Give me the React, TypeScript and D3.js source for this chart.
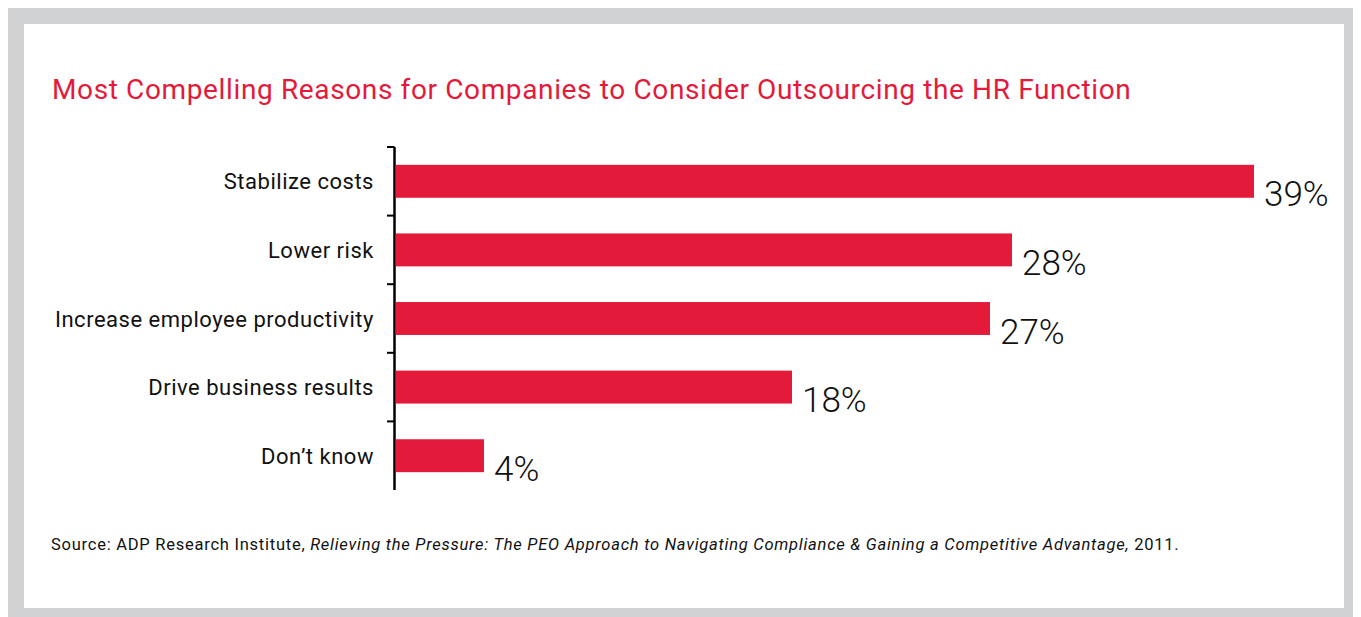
import React from "react";
import * as d3 from "d3";

const categories = [
  "Stabilize costs",
  "Lower risk",
  "Increase employee productivity",
  "Drive business results",
  "Don\u2019t know",
];
const values = [39, 28, 27, 18, 4];
const valueLabels = ["39%", "28%", "27%", "18%", "4%"];

const titleText =
  "Most Compelling Reasons for Companies to Consider Outsourcing the HR Function";
const sourcePrefix = "Source: ADP Research Institute, ";
const sourceItalic =
  "Relieving the Pressure: The PEO Approach to Navigating Compliance & Gaining a Competitive Advantage,";
const sourceSuffix = " 2011.";

const W = 1353;
const H = 609;
const RED = "#e31a3a";
const FONT = "Roboto, 'Open Sans', sans-serif";

export default function App() {
  const axisX = 386.5;
  const y = d3
    .scaleBand<string>()
    .domain(categories)
    .range([139, 482])
    .paddingInner(0.52)
    .paddingOuter(0.26);
  const x = d3.scaleLinear().domain([0, 40]).range([388, 1268]);
  const step = y.step();
  const tickYs = categories.map((c) => (y(c) as number) - (step * 0.52) / 2);

  return (
    <svg width={W} height={H} style={{ display: "block" }} fontFamily={FONT}>
      <rect x={0} y={0} width={W} height={H} fill="#d1d2d4" />
      <rect x={16} y={16} width={1320} height={584} fill="#ffffff" />
      <text x={44} y={91} fill={RED} fontSize={28} fontWeight={400} letterSpacing={0.63}>
        {titleText}
      </text>
      {categories.map((c, i) => {
        const by = y(c) as number;
        const bh = y.bandwidth();
        return (
          <g key={c}>
            <rect x={x(0)} y={by} width={x(values[i]) - x(0)} height={bh} fill={RED} />
            <text
              x={366}
              y={by + bh / 2 + 8}
              textAnchor="end"
              fontSize={22}
              letterSpacing={0.52}
              fill="#111"
            >
              {c}
            </text>
            <text
              x={x(values[i]) + 10}
              y={by + bh / 2 + 25}
              fontSize={35}
              fontWeight={300}
              fill="#111"
            >
              {valueLabels[i]}
            </text>
          </g>
        );
      })}
      <line x1={axisX} x2={axisX} y1={139} y2={482} stroke="#000" strokeWidth={2.5} />
      {tickYs.map((ty, i) => (
        <line key={i} x1={379} x2={axisX} y1={ty} y2={ty} stroke="#000" strokeWidth={2} />
      ))}
      <text x={43} y={542} fontSize={16.5} letterSpacing={0.75} fill="#111">
        {sourcePrefix}
        <tspan fontStyle="italic">{sourceItalic}</tspan>
        {sourceSuffix}
      </text>
    </svg>
  );
}
